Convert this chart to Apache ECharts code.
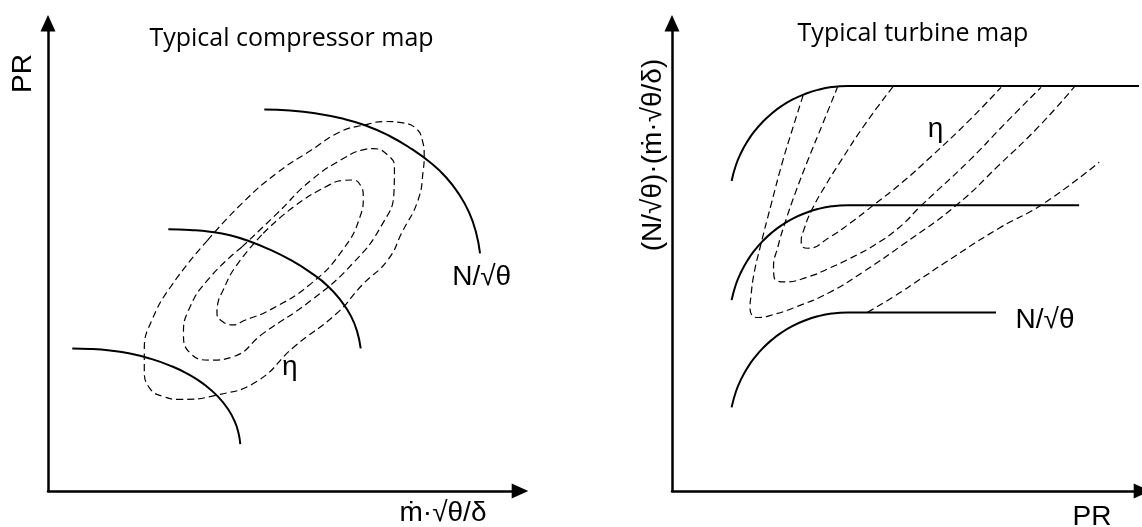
<!DOCTYPE html>
<html>
<head>
<meta charset="utf-8">
<script src="https://cdn.jsdelivr.net/npm/echarts@6/dist/echarts.min.js"></script>
<style>
html,body{margin:0;padding:0;background:#fff;}
#chart{width:1142px;height:527px;}
</style>
</head>
<body>
<div id="chart"></div>
<script>
// ---- Compressor map (left), normalised units 0..100 ----
const compSpeedLow = [[5.15,30.49],[8.90,30.38],[13.14,30.02],[17.37,29.38],[21.61,28.31],[25.85,26.82],[30.08,24.79],[33.26,22.65],[36.02,20.19],[38.14,17.52],[39.62,14.74],[40.36,12.39],[40.74,10.04]];
const compSpeedMid = [[25.49,55.98],[30.08,55.81],[34.32,55.45],[38.56,54.70],[42.80,53.35],[47.03,51.60],[51.27,49.47],[55.51,46.79],[59.32,43.80],[62.29,40.38],[64.19,37.39],[65.47,34.19],[66.25,30.49]];
const compSpeedHigh = [[45.83,81.56],[51.27,81.35],[56.57,80.77],[61.86,79.74],[67.16,78.21],[72.46,75.85],[77.12,73.08],[80.93,70.30],[84.32,67.09],[87.08,63.46],[89.19,59.62],[90.68,55.34],[91.53,50.79]];
const compEffOuter = [[33.8,53.6],[41.1,61.5],[48.5,68.0],[55.8,72.9],[61.9,76.8],[67.2,78.3],[71.4,79.0],[75.2,78.7],[78.1,77.4],[79.3,75.0],[79.7,71.8],[79.5,68.6],[78.4,62.2],[75.0,55.3],[72.0,49.4],[66.5,44.0],[61.2,38.0],[52.1,30.8],[44.2,23.4],[35.7,20.5],[28.0,19.6],[24.4,20.2],[21.6,21.9],[20.4,25.9],[20.4,30.1],[22.0,36.5],[26.5,44.4],[33.8,53.6]];
const compEffMid = [[41.1,52.2],[48.5,59.3],[55.8,66.5],[63.1,71.4],[66.5,72.9],[69.0,73.2],[72.0,71.8],[73.4,69.3],[73.3,64.0],[70.8,57.0],[64.6,48.7],[55.8,40.8],[45.6,33.7],[39.2,28.7],[34.3,28.0],[30.1,29.5],[28.7,33.7],[29.8,38.7],[33.8,45.1],[41.1,52.2]];
const compEffInner = [[45.6,55.1],[52.1,60.8],[59.5,65.4],[62.5,66.4],[64.6,66.5],[66.3,65.2],[66.8,63.0],[66.1,58.6],[62.4,51.5],[55.8,44.4],[47.0,38.7],[41.7,36.5],[39.2,35.5],[36.9,36.3],[35.8,38.0],[36.0,40.2],[36.9,42.5],[39.7,47.9],[45.6,55.1]];

// ---- Turbine map (right), normalised units 0..100 ----
const turbSpeedHigh = [[12.68,66.30],[13.59,69.64],[14.65,72.22],[16.14,74.91],[17.62,77.01],[19.32,78.95],[21.23,80.73],[23.35,82.33],[25.69,83.72],[28.24,84.87],[31.0,85.77],[33.97,86.37],[37.37,86.60],[42.04,86.60],[99.36,86.60]];
const turbSpeedMid = [[12.68,40.81],[13.59,44.15],[14.65,46.73],[16.14,49.42],[17.62,51.52],[19.32,53.46],[21.23,55.24],[23.35,56.84],[25.69,58.23],[28.24,59.38],[31.0,60.28],[33.97,60.88],[37.37,61.11],[42.04,61.11],[86.62,61.11]];
const turbSpeedLow = [[12.68,17.88],[13.59,21.22],[14.65,23.80],[16.14,26.49],[17.62,28.59],[19.32,30.53],[21.23,32.31],[23.35,33.91],[25.69,35.30],[28.24,36.45],[31.0,37.35],[33.97,37.95],[37.37,38.18],[42.04,38.18],[68.94,38.18]];
const turbEff1 = [[27.9,84.6],[25.7,77.6],[23.6,70.7],[21.1,61.3],[18.7,51.9],[17.4,46.2],[16.8,41.7],[16.6,39.1],[17.0,37.6],[18.3,37.1],[20.8,37.5],[26.5,39.4],[33.6,42.5],[40.6,46.8],[49.0,52.6],[60.5,61.1],[69.6,69.7],[78.1,78.0],[85.6,86.4]];
const turbEff2 = [[35.3,86.6],[32.1,78.6],[28.9,70.7],[26.3,63.9],[24.0,57.2],[22.5,52.1],[21.6,47.9],[21.7,45.9],[22.4,44.9],[23.8,44.7],[29.3,45.9],[33.6,47.7],[37.8,49.7],[43.1,52.6],[48.4,56.4],[52.9,60.9],[63.3,70.7],[70.7,78.4],[78.5,86.3]];
const turbEff3 = [[47.0,86.4],[41.2,78.6],[36.0,70.7],[32.7,65.4],[29.7,60.0],[28.1,56.0],[27.5,53.4],[27.8,52.2],[28.9,51.9],[33.6,54.3],[37.8,57.2],[43.1,61.3],[49.0,66.0],[54.8,71.2],[63.3,79.3],[70.0,86.3]];
const turbEff4 = [[41.6,38.2],[47.4,41.7],[52.7,45.2],[58.2,48.9],[69.6,56.2],[78.8,61.3],[90.9,70.3]];

// ---- Text ----
const titles = ['Typical compressor map', 'Typical turbine map'];
const compAxisNames = ['\u1E41\u00B7\u221A\u03B8/\u03B4', 'PR'];
const turbAxisNames = ['PR', '(N/\u221A\u03B8)\u00B7(\u1E41\u00B7\u221A\u03B8/\u03B4)'];
const speedLabel = 'N/\u221A\u03B8';
const effLabel = '\u03B7';

const LABEL_FONT = "'Liberation Sans', 'DejaVu Sans', Arial, sans-serif";
const TITLE_FONT = "'Open Sans', Lato, sans-serif";

function axisPair(gridIndex) {
  const axisLine = {
    show: true,
    symbol: ['none', 'triangle'],
    symbolSize: [15, 16.6],
    lineStyle: { color: '#000', width: 2.5 }
  };
  const base = {
    type: 'value', gridIndex: gridIndex, min: 0, max: 100,
    axisLine: axisLine, axisTick: { show: false }, axisLabel: { show: false },
    splitLine: { show: false }
  };
  return [Object.assign({}, base), Object.assign({}, base)];
}

const axL = axisPair(0), axR = axisPair(1);

function solid(data, xi) {
  return { type: 'line', xAxisIndex: xi, yAxisIndex: xi, data: data, smooth: 0.5,
    symbol: 'none', lineStyle: { color: '#000', width: 2 }, silent: true, z: 3 };
}
function dashed(data, xi) {
  return { type: 'line', xAxisIndex: xi, yAxisIndex: xi, data: data, smooth: 0.5,
    symbol: 'none', lineStyle: { color: '#000', width: 1.2, type: [7, 4] }, silent: true, z: 2 };
}

function txt(x, y, text, size, family, rot) {
  return { type: 'text', x: x, y: y, rotation: rot || 0, silent: true,
    style: { text: text, fontSize: size, fontFamily: family, fill: '#000',
      align: 'center', verticalAlign: 'middle' } };
}

const chart = echarts.init(document.getElementById('chart'), null, { renderer: 'canvas' });
chart.setOption({
  animation: false,
  backgroundColor: '#fff',
  grid: [
    { left: 48, top: 23.3, width: 472, height: 467.7 },
    { left: 672, top: 23.3, width: 471, height: 467.7 }
  ],
  xAxis: [axL[0], axR[0]],
  yAxis: [axL[1], axR[1]],
  series: [
    solid(compSpeedLow, 0), solid(compSpeedMid, 0), solid(compSpeedHigh, 0),
    dashed(compEffOuter, 0), dashed(compEffMid, 0), dashed(compEffInner, 0),
    solid(turbSpeedHigh, 1), solid(turbSpeedMid, 1), solid(turbSpeedLow, 1),
    dashed(turbEff1, 1), dashed(turbEff2, 1), dashed(turbEff3, 1), dashed(turbEff4, 1)
  ],
  graphic: [
    txt(291.5, 38.6, titles[0], 25, TITLE_FONT),
    txt(913, 33.6, titles[1], 25, TITLE_FONT),
    txt(23, 73.5, compAxisNames[1], 28, LABEL_FONT, Math.PI / 2),
    txt(443, 513, compAxisNames[0], 28, LABEL_FONT),
    txt(481.7, 277.5, speedLabel, 28, LABEL_FONT),
    txt(289.7, 367, effLabel, 28, LABEL_FONT),
    txt(653, 155, turbAxisNames[1], 28, LABEL_FONT, Math.PI / 2),
    txt(1092, 517, turbAxisNames[0], 28, LABEL_FONT),
    txt(1045, 320.5, speedLabel, 28, LABEL_FONT),
    txt(935.5, 129.3, effLabel, 28, LABEL_FONT)
  ]
});
</script>
</body>
</html>
